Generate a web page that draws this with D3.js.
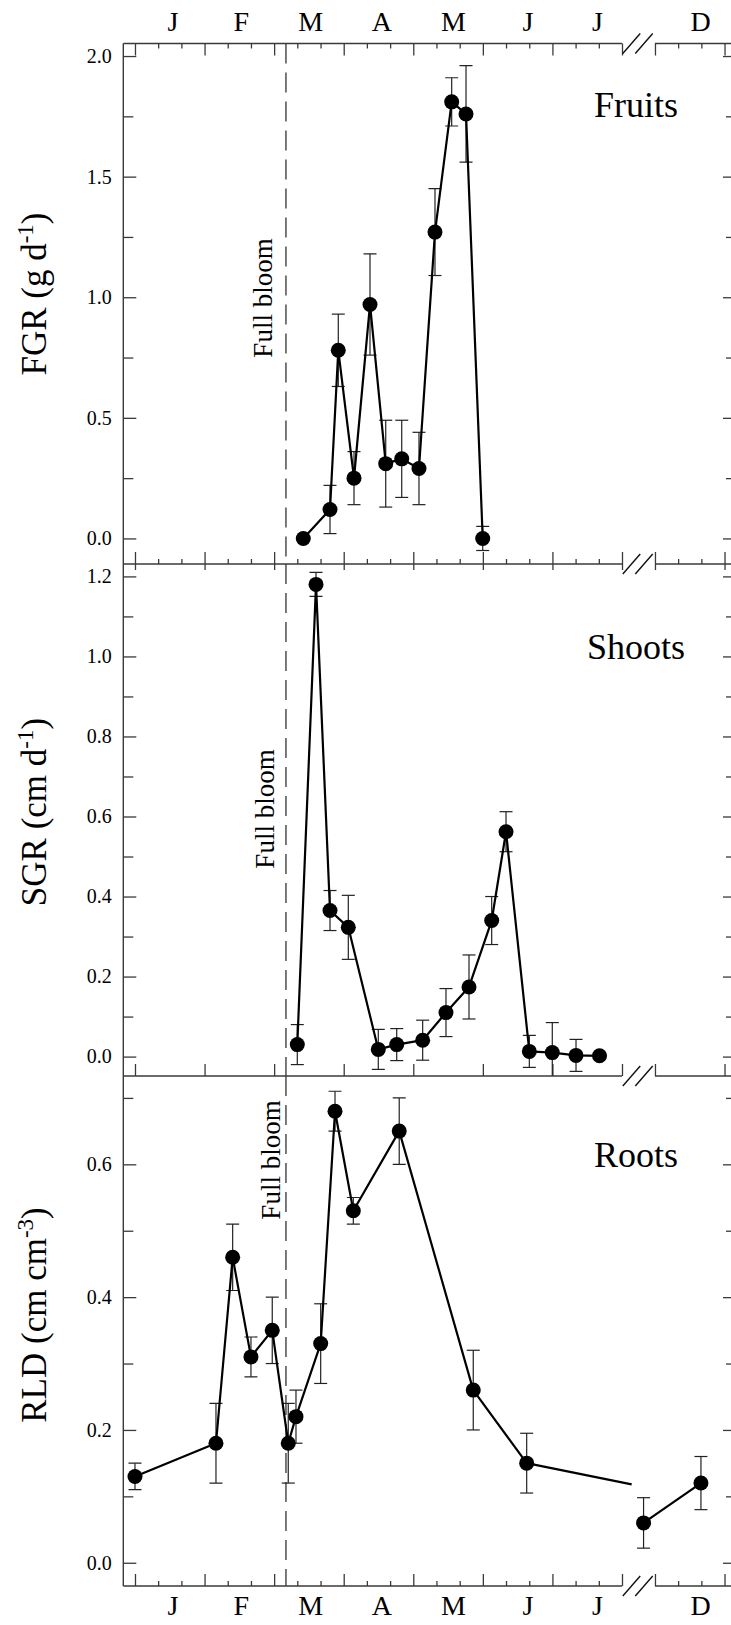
<!DOCTYPE html>
<html><head><meta charset="utf-8">
<script src="https://cdn.jsdelivr.net/npm/d3@7"></script>
<style>
body{margin:0;background:#fff}
svg{display:block}
text{font-family:"Liberation Serif","Times New Roman",serif;fill:#000}
</style>
</head><body>
<svg id="chart" width="731" height="1625"></svg>
<script>
// ---------- data (x in months since 1 Jan; axis break between Aug and late Nov) ----------
const monthLabels = ["J","F","M","A","M","J","J","D"];
const monthLabelPos = [0.54, 1.52, 2.52, 3.54, 4.57, 5.64, 6.64, 11.65];
const monthMajorTicks = [0, 1, 2, 3, 4, 5, 6, 7, 11, 12];
const monthMinorTicks = [0.333, 0.667, 1.333, 1.667, 2.333, 2.667, 3.333, 3.667, 4.333, 4.667,
                         5.333, 5.667, 6.333, 6.667, 11.333, 11.667];
const fullBloom = 2.17;

const fruitX   = [2.419, 2.803, 2.922, 3.148, 3.378, 3.604, 3.834, 4.082, 4.312, 4.552, 4.758, 4.998];
const fruitY   = [0.00, 0.12, 0.78, 0.25, 0.97, 0.31, 0.33, 0.29, 1.27, 1.81, 1.76, 0.00];
const fruitErr = [0.00, 0.10, 0.15, 0.11, 0.21, 0.18, 0.16, 0.15, 0.18, 0.10, 0.20, 0.05];

const shootX   = [2.333, 2.602, 2.803, 3.066, 3.497, 3.762, 4.135, 4.470, 4.801, 5.127, 5.333, 5.668, 5.998, 6.339, 6.677];
const shootY   = [0.030, 1.180, 0.365, 0.323, 0.018, 0.030, 0.041, 0.110, 0.174, 0.340, 0.562, 0.013, 0.010, 0.003, 0.002];
const shootErr = [0.050, 0.030, 0.050, 0.080, 0.050, 0.040, 0.050, 0.060, 0.080, 0.060, 0.050, 0.040, 0.075, 0.040, 0.000];

const rootX   = [0.000, 1.164, 1.404, 1.667, 1.973, 2.203, 2.314, 2.669, 2.875, 3.138, 3.798, 4.862, 5.630, 10.836, 11.661];
const rootY   = [0.13, 0.18, 0.46, 0.31, 0.35, 0.18, 0.22, 0.33, 0.68, 0.53, 0.65, 0.26, 0.15, 0.06, 0.12];
const rootErr = [0.020, 0.060, 0.050, 0.030, 0.050, 0.060, 0.040, 0.060, 0.030, 0.020, 0.050, 0.060, 0.045, 0.038, 0.040];
const rootSegment = [0,0,0,0,0,0,0,0,0,0,0,0,0,1,1];
// unmarked end of the first root line, running into the axis break
const rootTailX = [10.665];
const rootTailY = [0.118];

const fruitTicks = [0, 0.5, 1.0, 1.5, 2.0];
const fruitMinor = [0.25, 0.75, 1.25, 1.75];
const shootTicks = [0, 0.2, 0.4, 0.6, 0.8, 1.0, 1.2];
const shootMinor = [0.1, 0.3, 0.5, 0.7, 0.9, 1.1];
const rootTicks  = [0, 0.2, 0.4, 0.6];
const rootMinor  = [0.1, 0.3, 0.5, 0.7];

// ---------- layout ----------
const svg = d3.select("#chart");
const AX = "#3a3a3a";
const xLeft = 123.3, xRight = 736;
const x = d3.scaleLinear().domain([-0.168, 7, 10.526, 12.165]).range([xLeft, 622, 622, xRight]);

const panels = [
  {name:"Fruits", top:43.5, bottom:564, dom:[-0.106, 2.052], ticks:fruitTicks, minor:fruitMinor,
   xs:fruitX, ys:fruitY, es:fruitErr, seg:null,
   title:["FGR (g d","-1",")"], titleY:294, bloomX:272, bloomY:298, labelY:117,
   topMaj:12, topMin:5, botMaj:12, botMin:5},
  {name:"Shoots", top:564, bottom:1076, dom:[-0.0485, 1.231], ticks:shootTicks, minor:shootMinor,
   xs:shootX, ys:shootY, es:shootErr, seg:null,
   title:["SGR (cm d","-1",")"], titleY:812, bloomX:274, bloomY:809, labelY:659,
   topMaj:6, topMin:0, botMaj:12, botMin:0},
  {name:"Roots", top:1076, bottom:1586, dom:[-0.035, 0.733], ticks:rootTicks, minor:rootMinor,
   xs:rootX, ys:rootY, es:rootErr, seg:rootSegment,
   title:["RLD (cm cm","-3",")"], titleY:1315, bloomX:280, bloomY:1160, labelY:1167,
   topMaj:0, topMin:0, botMaj:12, botMin:5}
];

function styleAxis(g){
  g.select(".domain").remove();
  g.selectAll(".tick line").attr("stroke", AX).attr("stroke-width", 1.3);
  g.selectAll(".tick text").attr("fill", "#000")
    .attr("font-family", '"Liberation Serif","Times New Roman",serif');
}

function hAxis(yPos, orient, len, values){
  if (!len) return;
  const ax = (orient === "top" ? d3.axisTop(x) : d3.axisBottom(x))
    .tickValues(values).tickSize(-len).tickFormat("");
  svg.append("g").attr("transform", `translate(0,${yPos})`).call(ax).call(styleAxis);
}

function axisLineWithBreak(yPos){
  svg.append("line").attr("x1", xLeft).attr("x2", x(7)).attr("y1", yPos).attr("y2", yPos)
    .attr("stroke", AX).attr("stroke-width", 1.4);
  svg.append("line").attr("x1", x(11)).attr("x2", xRight).attr("y1", yPos).attr("y2", yPos)
    .attr("stroke", AX).attr("stroke-width", 1.4);
  const b = x(7);
  [9.5, 22].forEach(off => {
    svg.append("line").attr("x1", b + off - 8.7).attr("y1", yPos + 10)
      .attr("x2", b + off + 8.7).attr("y2", yPos - 10)
      .attr("stroke", "#111").attr("stroke-width", 1.4);
  });
}

panels.forEach((p, pi) => {
  const y = d3.scaleLinear().domain(p.dom).range([p.bottom, p.top]);

  // clip
  const cid = "clip" + pi;
  svg.append("clipPath").attr("id", cid).append("rect")
    .attr("x", xLeft).attr("y", p.top).attr("width", xRight - xLeft).attr("height", p.bottom - p.top);

  // left axis (major with labels, minor)
  svg.append("g").attr("transform", `translate(${xLeft},0)`)
    .call(d3.axisLeft(y).tickValues(p.ticks).tickSize(-13).tickPadding(11.5).tickFormat(d3.format(".1f")))
    .call(styleAxis)
    .call(g => g.selectAll(".tick text").attr("font-size", 20));
  svg.append("g").attr("transform", `translate(${xLeft},0)`)
    .call(d3.axisLeft(y).tickValues(p.minor).tickSize(-10).tickFormat(""))
    .call(styleAxis);
  // right axis (ticks only)
  svg.append("g").attr("transform", `translate(${xRight},0)`)
    .call(d3.axisRight(y).tickValues(p.ticks).tickSize(-13).tickFormat(""))
    .call(styleAxis);
  svg.append("g").attr("transform", `translate(${xRight},0)`)
    .call(d3.axisRight(y).tickValues(p.minor).tickSize(-10).tickFormat(""))
    .call(styleAxis);

  // frame verticals
  svg.append("line").attr("x1", xLeft).attr("x2", xLeft).attr("y1", p.top).attr("y2", p.bottom)
    .attr("stroke", AX).attr("stroke-width", 1.4);

  // horizontal axes ticks
  hAxis(p.top, "top", p.topMaj, monthMajorTicks);
  hAxis(p.top, "top", p.topMin, monthMinorTicks);
  hAxis(p.bottom, "bottom", p.botMaj, monthMajorTicks);
  hAxis(p.bottom, "bottom", p.botMin, monthMinorTicks);

  // full bloom dashed line
  svg.append("line").attr("x1", x(fullBloom)).attr("x2", x(fullBloom))
    .attr("y1", p.top).attr("y2", p.bottom)
    .attr("stroke", "#333").attr("stroke-width", 1.3).attr("stroke-dasharray", "20,9");
  svg.append("text").attr("transform", `translate(${p.bloomX},${p.bloomY}) rotate(-90)`)
    .attr("text-anchor", "middle").attr("font-size", 27).text("Full bloom");

  // y title
  const t = svg.append("text").attr("transform", `translate(46,${p.titleY}) rotate(-90)`)
    .attr("text-anchor", "middle").attr("font-size", 35);
  t.append("tspan").text(p.title[0]);
  t.append("tspan").attr("font-size", 23).attr("dy", -13).text(p.title[1]);
  t.append("tspan").attr("dy", 13).text(p.title[2]);

  // panel label
  svg.append("text").attr("x", 636).attr("y", p.labelY).attr("text-anchor", "middle")
    .attr("font-size", 36).text(p.name);

  // data
  const data = p.xs.map((v, i) => ({x: v, y: p.ys[i], e: p.es[i], s: p.seg ? p.seg[i] : 0}));
  const g = svg.append("g").attr("clip-path", `url(#${cid})`);

  // error bars
  const eb = data.filter(d => d.e > 0);
  g.selectAll(".eb").data(eb).join("line")
    .attr("x1", d => x(d.x)).attr("x2", d => x(d.x))
    .attr("y1", d => y(d.y - d.e)).attr("y2", d => y(d.y + d.e))
    .attr("stroke", "#222").attr("stroke-width", 1.2);
  [1, -1].forEach(sgn => {
    g.selectAll(".cap" + sgn).data(eb).join("line")
      .attr("x1", d => x(d.x) - 6.5).attr("x2", d => x(d.x) + 6.5)
      .attr("y1", d => y(d.y + sgn * d.e)).attr("y2", d => y(d.y + sgn * d.e))
      .attr("stroke", "#222").attr("stroke-width", 1.2);
  });

  // lines
  const line = d3.line().x(d => x(d.x)).y(d => y(d.y));
  const segs = d3.groups(data, d => d.s).map(s => s[1]);
  if (p.seg) {
    segs[0] = segs[0].concat(rootTailX.map((v, i) => ({x: v, y: rootTailY[i]})));
  }
  segs.forEach(s => {
    g.append("path").attr("d", line(s)).attr("fill", "none")
      .attr("stroke", "#000").attr("stroke-width", 2.2).attr("stroke-linejoin", "round");
  });

  // markers
  g.selectAll(".pt").data(data).join("circle")
    .attr("cx", d => x(d.x)).attr("cy", d => y(d.y)).attr("r", 7.5).attr("fill", "#000");
});

// horizontal axis lines with break marks
[43.5, 564, 1076, 1586].forEach(axisLineWithBreak);

// month labels top & bottom
svg.append("g").attr("transform", "translate(0,43.5)")
  .call(d3.axisTop(x).tickValues(monthLabelPos).tickSize(0).tickPadding(12.5)
        .tickFormat((d, i) => monthLabels[i]))
  .call(styleAxis).call(g => g.selectAll(".tick text").attr("font-size", 28));
svg.append("g").attr("transform", "translate(0,1586)")
  .call(d3.axisBottom(x).tickValues(monthLabelPos).tickSize(0).tickPadding(9)
        .tickFormat((d, i) => monthLabels[i]))
  .call(styleAxis).call(g => g.selectAll(".tick text").attr("font-size", 28));
</script>
</body></html>
